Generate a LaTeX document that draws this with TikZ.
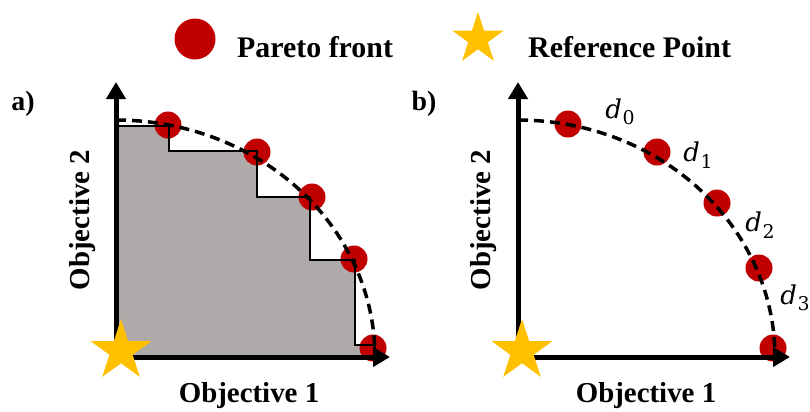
\documentclass[tikz,border=0pt]{standalone}
\usepackage{fontspec}
\setmainfont{Liberation Serif}
\newfontfamily\dfont{DejaVu Serif}
\usetikzlibrary{arrows.meta,shapes.geometric}
\definecolor{pred}{HTML}{C00000}
\definecolor{pgold}{HTML}{FFC000}
\definecolor{pgrey}{HTML}{AEAAAA}
\newcommand{\dsub}[1]{{\dfont\itshape d}\kern0.5bp\raisebox{-6.5bp}{\dfont\fontsize{19}{21}\selectfont #1}}
\begin{document}
\begin{tikzpicture}[x=1bp,y=-1bp,
  dot/.style={circle,fill=pred,draw=none,minimum size=27bp,inner sep=0pt},
  bigdot/.style={dot,minimum size=41bp},
  refstar/.style={star,star points=5,star point ratio=2.618,fill=pgold,draw=none,minimum size=#1,inner sep=0pt},
  axis/.style={line width=5bp,line join=miter,{Triangle[length=17bp,width=19bp]}-{Triangle[length=17bp,width=19bp]}},
  front/.style={dash pattern=on 10bp off 6bp,line width=3.5bp},
  stepline/.style={line width=2.2bp,line join=miter},
  lbl/.style={font=\bfseries\fontsize{29}{34}\selectfont,inner sep=0pt},
  leg/.style={font=\bfseries\fontsize{30}{34}\selectfont,inner sep=0pt},
  dlbl/.style={font=\fontsize{26}{30}\selectfont,inner sep=0pt}]
\useasboundingbox (0,0) rectangle (810,411);

% legend
\node[bigdot] (legdot) at (195,39) {};
\node[leg,anchor=base west] (legtxt1) at (237,57) {Pareto front};
\node[refstar=54bp] (legstar) at (478,39) {};
\node[leg,anchor=base west] (legtxt2) at (528,57) {Reference Point};

% ---------- panel a ----------
\node[font=\bfseries\fontsize{28}{32}\selectfont,inner sep=0pt] (pa) at (23,104) {a)};
\coordinate (aO) at (116,357);
\coordinate (aY) at (116,82);
\coordinate (aX) at (390,357);
\fill[pgrey] (116,126) -- (169,126) -- (169,151) -- (257,151) -- (257,197) -- (310,197) -- (310,260) -- (355,260) -- (355,345) -- (375,345) -- (375,357) -- (116,357) -- cycle;
\node[dot] (a1) at (168,125) {};
\node[dot] (a2) at (257,152) {};
\node[dot] (a3) at (312,197) {};
\node[dot] (a4) at (354,259) {};
\node[dot] (a5) at (373,348) {};
\draw[stepline] (116,126) -- (169,126) -- (169,151) -- (257,151) -- (257,197) -- (310,197) -- (310,260) -- (355,260) -- (355,345) -- (375,345) -- (375,357);
\draw[front] plot[domain=90:0,samples=70,smooth] ({116+259*cos(\x)},{357-237*sin(\x)});
\draw[axis] (aY) -- (aO) -- (aX);
\node[refstar=64bp] (astar) at (121,351) {};
\node[lbl,anchor=base] (ax1) at (249,402) {Objective 1};
\node[lbl,rotate=90] (ax2) at (83,220) {Objective 2};

% ---------- panel b ----------
\node[font=\bfseries\fontsize{28}{32}\selectfont,inner sep=0pt] (pb) at (424,104) {b)};
\coordinate (bO) at (518,357);
\coordinate (bY) at (518,82);
\coordinate (bX) at (790,357);
\node[dot] (b1) at (568,124) {};
\node[dot] (b2) at (657,152) {};
\node[dot] (b3) at (717,203) {};
\node[dot] (b4) at (759,268) {};
\node[dot] (b5) at (773,348) {};
\draw[front] plot[domain=90:0,samples=70,smooth] ({518+257*cos(\x)},{357-237*sin(\x)});
\draw[axis] (bY) -- (bO) -- (bX);
\node[refstar=64bp] (bstar) at (522,351) {};
\node[lbl,anchor=base] (bx1) at (646,402) {Objective 1};
\node[lbl,rotate=90] (bx2) at (484,220) {Objective 2};
\node[dlbl] (d0) at (620,112) {\dsub{0}};
\node[dlbl] (d1) at (698,155) {\dsub{1}};
\node[dlbl] (d2) at (760,225) {\dsub{2}};
\node[dlbl] (d3) at (795,298) {\dsub{3}};
\end{tikzpicture}
\end{document}
